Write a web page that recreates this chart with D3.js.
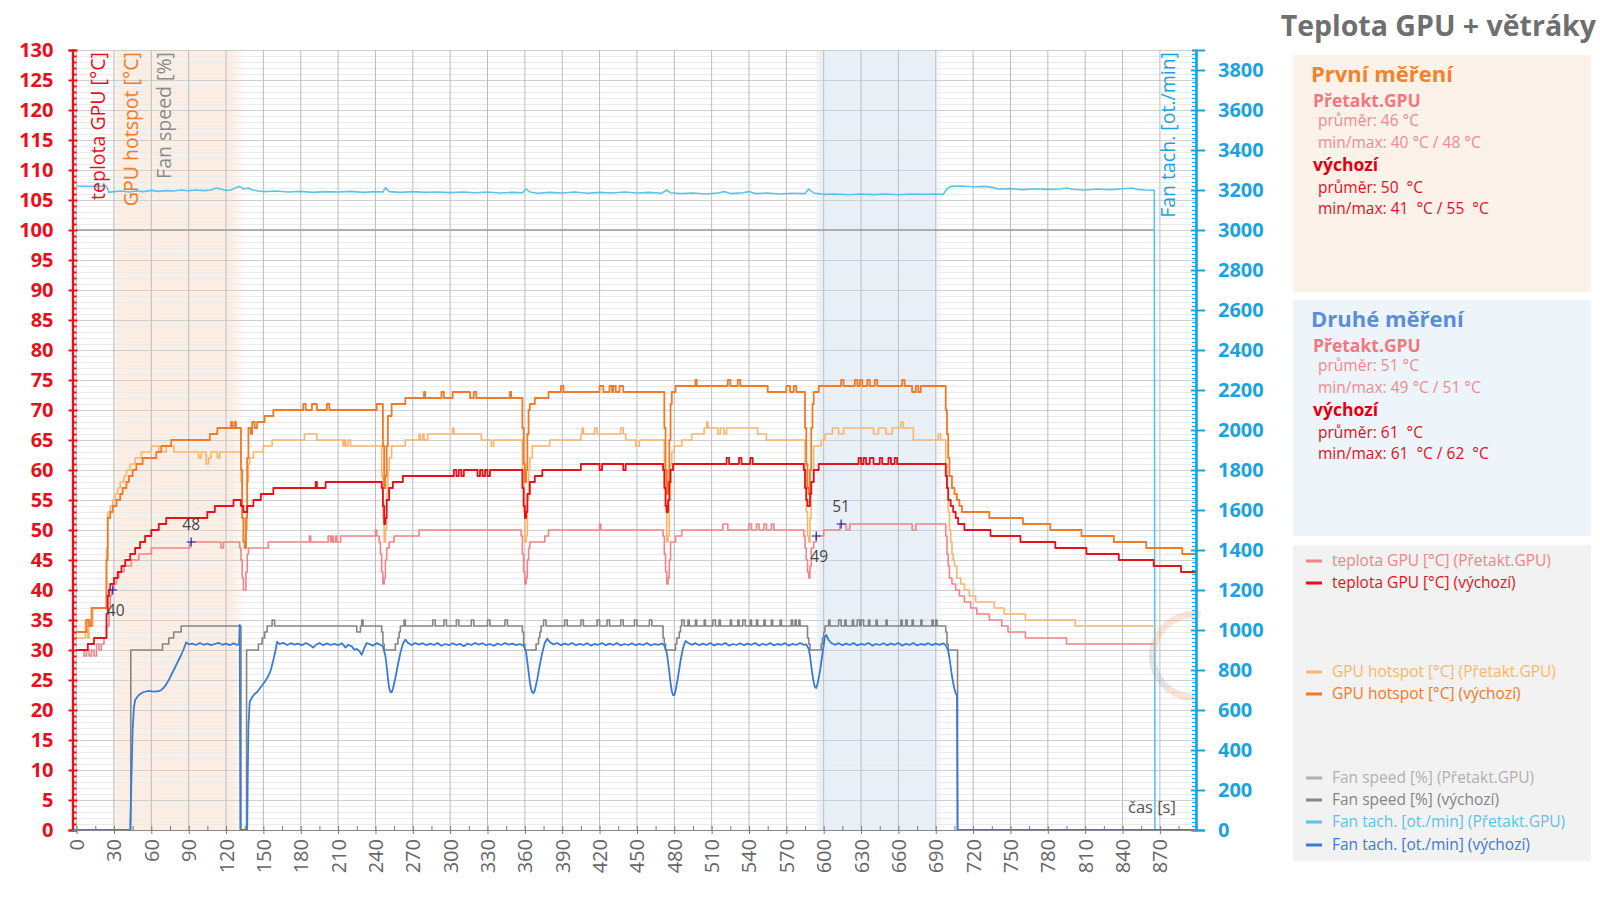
<!DOCTYPE html>
<html><head><meta charset="utf-8">
<script src="https://cdn.jsdelivr.net/npm/d3@7"></script>
<style>body{margin:0;background:#fff;} svg{display:block;font-family:'Open Sans','Noto Sans',sans-serif;}</style>
</head><body><svg id="c" width="1600" height="899"></svg>
<script>
// ---------------- DATA ----------------
const xTickVals = [0,30,60,90,120,150,180,210,240,270,300,330,360,390,420,450,480,510,540,570,600,630,660,690,720,750,780,810,840,870];
const xMinorVals = [15,45,75,105,135,165,195,225,255,285,315,345,375,405,435,465,495,525,555,585,615,645,675,705,735,765,795,825,855,885];
const leftTickVals = [0,5,10,15,20,25,30,35,40,45,50,55,60,65,70,75,80,85,90,95,100,105,110,115,120,125,130];
const rightTickVals = [0,200,400,600,800,1000,1200,1400,1600,1800,2000,2200,2400,2600,2800,3000,3200,3400,3600,3800];

// teplota GPU [°C] (Přetakt.GPU)
const tempOC = [[0,30],[6,29],[8,30],[10,29],[12,30],[14,29],[16,31],[18,30],[20,31],[22,32],[24,34],[26,37],[27,39],[28,40],[30,41],[32,42],[34,43],[38,44],[44,45],[50,46],[60,47],[91,48],[116,47],[118,48],[131,47],[132,45],[133,42],[134,40],[135,40],[136,43],[137,46],[138,47],[154,48],[187,49],[188,48],[202,49],[204,48],[205,49],[206,48],[208,49],[209,48],[212,49],[240,50],[241,49],[243,48],[244,46],[245,43],[246,41],[247,42],[248,45],[249,47],[251,48],[255,49],[275,50],[357,49],[358,46],[359,43],[360,41],[361,42],[362,45],[363,47],[364,48],[376,49],[379,50],[420,51],[421,50],[471,49],[472,46],[473,43],[474,41],[475,42],[476,45],[477,48],[481,49],[486,50],[519,51],[523,50],[540,51],[542,50],[546,51],[548,50],[552,51],[554,50],[558,51],[560,50],[584,49],[585,47],[586,45],[587,43],[588,42],[589,44],[590,47],[592,48],[594,49],[600,50],[613,51],[618,50],[621,51],[671,50],[674,51],[697,51],[698,49],[699,46],[700,44],[701,42],[703,41],[706,40],[709,39],[713,38],[718,37],[723,36],[733,35],[743,34],[748,33],[762,32],[795,31],[866,31]];
// teplota GPU [°C] (výchozí)
const tempDef = [[0,30],[9,31],[14,32],[23,32],[24,36],[25,39],[26,40],[27,41],[30,42],[33,43],[36,44],[39,45],[43,46],[47,47],[51,48],[55,49],[60,50],[66,51],[72,52],[105,53],[111,54],[126,55],[131,55],[132,54],[134,53],[136,53],[137,54],[142,55],[148,56],[158,57],[192,58],[193,57],[200,58],[245,57],[246,54],[247,51],[248,52],[249,55],[251,57],[254,58],[262,59],[303,60],[305,59],[307,60],[309,59],[311,60],[322,59],[324,60],[326,59],[328,60],[330,59],[332,60],[357,60],[358,57],[359,54],[360,52],[361,53],[362,56],[364,58],[368,59],[374,60],[405,61],[420,60],[422,61],[439,60],[441,61],[471,60],[472,57],[473,54],[474,53],[475,55],[476,58],[477,60],[479,61],[522,62],[524,61],[532,62],[534,61],[541,62],[543,61],[584,60],[585,57],[586,55],[587,54],[588,54],[589,56],[590,58],[592,60],[596,61],[628,62],[630,61],[632,62],[634,61],[637,62],[640,61],[645,62],[647,61],[652,62],[654,61],[657,62],[659,61],[697,61],[698,59],[699,57],[700,55],[702,54],[704,53],[706,52],[708,51],[713,50],[734,49],[758,48],[786,47],[811,46],[837,45],[865,44],[887,43],[899,43]];
// GPU hotspot [°C] (Přetakt.GPU)
const hotOC = [[0,32],[6,32],[7,35],[8,33],[9,32],[10,35],[11,34],[13,37],[23,37],[24,47],[25,53],[27,54],[29,55],[31,56],[33,57],[35,58],[38,59],[40,60],[43,61],[47,62],[52,63],[60,64],[66,63],[72,64],[78,63],[96,63],[98,62],[100,63],[104,61],[106,62],[108,63],[113,62],[115,63],[131,63],[132,58],[133,52],[134,48],[135,47],[136,50],[137,58],[138,61],[139,62],[142,63],[150,64],[157,65],[183,66],[193,65],[214,64],[215,65],[216,64],[218,65],[220,64],[244,64],[245,59],[246,52],[247,48],[248,50],[249,56],[250,60],[251,62],[253,64],[264,65],[275,66],[276,65],[278,66],[279,65],[282,66],[302,67],[303,66],[325,65],[333,64],[335,65],[357,65],[358,60],[359,53],[360,48],[361,49],[362,55],[363,60],[364,62],[366,64],[380,65],[405,66],[406,67],[407,66],[416,67],[418,66],[437,67],[439,66],[441,65],[449,64],[452,65],[471,65],[472,60],[473,53],[474,48],[475,49],[476,55],[477,61],[478,63],[480,64],[486,65],[494,66],[504,67],[506,68],[507,67],[515,66],[517,67],[520,66],[522,67],[547,66],[554,65],[584,65],[585,60],[586,53],[587,49],[588,48],[589,52],[590,58],[592,64],[598,65],[601,66],[607,67],[612,66],[616,67],[640,66],[644,67],[650,66],[655,67],[662,68],[664,67],[672,65],[692,66],[694,65],[697,65],[698,61],[699,57],[700,53],[701,50],[702,48],[703,46],[704,45],[705,44],[707,42],[710,41],[713,40],[717,39],[722,38],[737,37],[745,36],[762,35],[802,34],[866,34]];
// GPU hotspot [°C] (výchozí)
const hotDef = [[0,33],[7,33],[8,35],[10,34],[12,37],[23,37],[24,45],[25,52],[27,53],[29,54],[32,55],[35,56],[37,57],[40,58],[42,59],[45,60],[48,61],[53,62],[64,63],[68,64],[76,65],[107,66],[113,67],[122,67],[124,68],[125,67],[127,68],[128,67],[131,67],[132,60],[133,52],[134,48],[135,47],[136,52],[137,62],[138,67],[140,66],[141,68],[143,67],[145,68],[151,69],[158,70],[182,71],[184,70],[189,71],[193,70],[201,71],[203,70],[241,71],[245,71],[246,64],[247,57],[248,59],[249,64],[250,69],[253,71],[264,72],[279,73],[280,72],[293,73],[295,72],[302,73],[316,72],[319,73],[321,72],[348,73],[349,72],[357,72],[358,67],[359,61],[360,58],[361,60],[362,66],[363,70],[364,71],[368,72],[379,73],[389,74],[391,73],[420,74],[423,73],[428,74],[430,73],[431,74],[433,73],[436,74],[439,73],[471,73],[472,67],[473,60],[474,56],[475,58],[476,65],[477,71],[478,73],[481,74],[497,75],[498,74],[523,75],[525,74],[531,75],[533,74],[555,73],[570,74],[573,73],[576,74],[578,73],[584,73],[585,67],[586,61],[587,57],[588,56],[589,60],[590,67],[591,71],[592,73],[596,74],[614,75],[616,74],[625,75],[627,74],[629,75],[631,74],[635,75],[637,74],[641,75],[643,74],[663,75],[665,74],[671,73],[674,74],[676,73],[678,74],[697,74],[698,70],[699,66],[700,62],[701,59],[703,57],[705,56],[707,55],[709,54],[711,53],[733,52],[760,51],[782,50],[807,49],[833,48],[859,47],[888,46],[899,46]];
// Fan speed [%] (Přetakt.GPU)
const fanOC = [[0,100],[866,100]];
// Fan speed [%] (výchozí)
const fanDef = [[0,0],[43,0],[43.5,30],[69,31],[74,32],[78,33],[84,34],[131.5,34],[132,0],[136,0],[136.5,30],[146,31],[149,32],[151,33],[153,34],[157,35],[159,34],[225,33],[228,34],[229,35],[230,34],[244,34],[245,33],[246,31],[247,30],[256,31],[258,32],[259,33],[260,34],[263,35],[264,34],[286,35],[288,34],[295,35],[297,34],[305,35],[307,34],[317,35],[319,34],[330,35],[332,34],[344,35],[346,34],[357,34],[358,33],[359,31],[360,30],[369,31],[371,32],[372,33],[373,34],[375,35],[377,34],[392,35],[394,34],[405,35],[407,34],[418,35],[420,34],[426,35],[428,34],[437,35],[439,34],[448,35],[450,34],[460,35],[462,34],[470,34],[471,32],[472,31],[473,30],[481,31],[482,32],[484,33],[485,34],[486,35],[488,34],[491,35],[492,34],[497,35],[498,34],[504,35],[505,34],[511,35],[513,34],[516,35],[517,34],[525,35],[526,34],[531,35],[532,34],[535,35],[537,34],[541,35],[542,34],[546,35],[547,34],[552,35],[553,34],[558,35],[559,34],[565,35],[566,34],[574,35],[575,34],[577,35],[578,34],[580,35],[581,34],[586,34],[587,32],[588,31],[589,30],[598,31],[599,32],[600,33],[601,34],[604,35],[605,34],[612,35],[614,34],[617,35],[618,34],[623,35],[624,34],[627,35],[629,34],[630,35],[632,34],[636,35],[637,34],[642,35],[643,34],[650,35],[651,34],[662,35],[663,34],[666,35],[667,34],[671,35],[672,34],[678,35],[679,34],[687,35],[688,34],[690,35],[691,34],[697,34],[698,33],[699,31],[700,30],[707,30],[707.5,0],[899,0]];
// Fan tach. [ot./min] (Přetakt.GPU)
const tachOC = [[0,3220],[10,3218],[20,3220],[24,3218],[26,3188],[30,3192],[36,3195],[42,3190],[48,3195],[54,3192],[60,3198],[66,3193],[72,3197],[78,3195],[84,3200],[90,3196],[96,3200],[102,3197],[108,3200],[112,3210],[116,3205],[120,3198],[124,3200],[128,3212],[131,3218],[134,3205],[138,3210],[141,3200],[146,3195],[152,3192],[160,3195],[170,3190],[180,3193],[190,3188],[200,3192],[210,3190],[220,3193],[230,3188],[240,3192],[246,3190],[248,3212],[251,3192],[260,3188],[270,3192],[280,3188],[290,3190],[300,3187],[310,3190],[320,3186],[330,3190],[340,3185],[350,3188],[358,3186],[361,3205],[364,3190],[370,3184],[380,3188],[390,3185],[400,3190],[410,3184],[420,3188],[430,3185],[440,3190],[450,3185],[460,3188],[470,3184],[474,3200],[477,3186],[485,3182],[495,3185],[505,3180],[515,3185],[520,3192],[525,3182],[535,3186],[540,3192],[545,3182],[555,3185],[565,3180],[575,3184],[585,3182],[588,3205],[592,3185],[600,3178],[610,3180],[620,3176],[630,3180],[640,3177],[650,3180],[660,3176],[670,3180],[680,3178],[690,3180],[696,3178],[699,3205],[702,3218],[710,3220],[720,3216],[730,3218],[736,3212],[740,3205],[750,3207],[760,3202],[770,3206],[780,3203],[790,3205],[795,3210],[800,3204],[810,3200],[820,3205],[830,3202],[840,3206],[848,3210],[852,3203],[858,3200],[865.5,3198],[866,0]];
// Fan tach. [ot./min] (výchozí)
const tachDef = [[0,0],[43,0],[44,250],[45,500],[46,610],[47,650],[49,668],[51,680],[54,690],[58,696],[62,692],[66,694],[68,700],[70,712],[72,728],[74,750],[76,775],[78,800],[80,825],[82,850],[84,875],[86,905],[88,938],[90,928],[93,932],[96,925],[99,935],[102,926],[105,932],[108,924],[111,930],[114,936],[117,926],[120,932],[123,924],[126,933],[129,926],[130.5,930],[131,1025],[131.5,0],[137,0],[137.5,300],[138,520],[139,640],[141,665],[143,680],[145,690],[148,715],[151,740],[154,770],[156,800],[158,850],[160,905],[161,940],[163,930],[166,936],[169,925],[172,934],[175,927],[178,932],[181,924],[184,935],[187,926],[190,912],[192,925],[195,935],[198,924],[201,933],[204,925],[207,931],[210,924],[213,934],[216,912],[218,926],[221,918],[223,902],[225,905],[227,895],[229,876],[231,910],[233,935],[235,930],[238,922],[241,934],[244,926],[246,918],[248,870],[249,820],[250,760],[251,710],[252,690],[253,688],[254,705],[256,760],[258,825],[260,885],[262,930],[264,952],[266,936],[269,925],[272,935],[275,927],[278,934],[281,924],[284,932],[287,925],[290,935],[293,921],[296,930],[299,924],[302,934],[305,925],[308,931],[311,919],[314,932],[317,925],[320,935],[323,927],[326,934],[329,924],[332,930],[335,921],[338,932],[341,925],[344,935],[347,927],[350,932],[353,924],[356,930],[359,922],[361,890],[362,840],[363,790],[364,740],[365,705],[366,688],[367,685],[368,698],[370,755],[372,825],[374,888],[376,935],[378,956],[380,940],[383,928],[386,935],[389,924],[392,932],[395,926],[398,935],[401,924],[404,931],[407,925],[410,934],[413,922],[416,930],[419,926],[422,935],[425,924],[428,932],[431,925],[434,935],[437,923],[440,930],[443,925],[446,934],[449,924],[452,931],[455,925],[458,935],[461,923],[464,930],[467,926],[470,932],[472,924],[474,885],[475,840],[476,790],[477,735],[478,695],[479,675],[480,674],[481,695],[483,765],[485,845],[487,910],[489,945],[491,936],[494,926],[497,934],[500,924],[503,932],[506,925],[509,935],[512,923],[515,931],[518,926],[521,935],[524,922],[527,930],[530,925],[533,934],[536,924],[539,932],[542,926],[545,935],[548,922],[551,931],[554,925],[557,935],[560,923],[563,930],[566,926],[569,934],[572,922],[575,931],[578,925],[581,935],[584,926],[586,928],[588,905],[589,870],[590,820],[591,775],[592,738],[593,714],[594,710],[595,728],[597,795],[599,880],[601,968],[602,975],[604,950],[606,935],[609,926],[612,934],[615,924],[618,932],[621,925],[624,935],[627,923],[630,931],[633,926],[636,935],[639,922],[642,930],[645,925],[648,934],[651,924],[654,932],[657,926],[660,935],[663,922],[666,931],[669,925],[672,935],[675,923],[678,930],[681,926],[684,934],[687,924],[690,932],[693,926],[696,933],[698,925],[700,895],[701,860],[702,815],[703,770],[704,735],[705,705],[706,685],[707,672],[707.5,0],[899,0]];

// highlighted intervals and min/max markers
const bandFirst = [29, 130];
const bandSecond = [594, 694];
const markerPts = [[29,40,"40",1],[92,48,"48",-1],[594,49,"49",1],[614,51,"51",-1]];

const panelFirst = ["První měření","Přetakt.GPU","průměr: 46 °C","min/max: 40 °C / 48 °C","výchozí","průměr: 50  °C","min/max: 41  °C / 55  °C"];
const panelSecond = ["Druhé měření","Přetakt.GPU","průměr: 51 °C","min/max: 49 °C / 51 °C","výchozí","průměr: 61  °C","min/max: 61  °C / 62  °C"];
const legendNames = ["teplota GPU [°C] (Přetakt.GPU)","teplota GPU [°C] (výchozí)","GPU hotspot [°C] (Přetakt.GPU)","GPU hotspot [°C] (výchozí)","Fan speed [%] (Přetakt.GPU)","Fan speed [%] (výchozí)","Fan tach. [ot./min] (Přetakt.GPU)","Fan tach. [ot./min] (výchozí)"];

// ---------------- DRAW ----------------
const C = {tOC:"#f28388", tDef:"#e5121c", hOC:"#f8b66c", hDef:"#f07a28", fOC:"#9c9c9c", fDef:"#858585", rOC:"#5cc3e6", rDef:"#3a7bd5",
  left:"#e8101a", right:"#1ca3de"};
const svg = d3.select("#c");
const X0 = 72.5, X1 = 1196, Y0 = 830, Y1 = 50;
const x = d3.scaleLinear().domain([-3.3, 899]).range([X0, X1]);
const yL = d3.scaleLinear().domain([0, 130]).range([Y0, Y1]);
const yR = d3.scaleLinear().domain([0, 3900]).range([Y0, Y1]);

// bands
const defs = svg.append("defs");
function grad(id, col, op){
  const g = defs.append("linearGradient").attr("id", id);
  [[0,0.5*op],[0.04,op],[0.9,op],[1,0]].forEach(s=>g.append("stop").attr("offset",s[0]).attr("stop-color",col).attr("stop-opacity",s[1]));
}
grad("g1","#f7c7a5",0.3); grad("g2","#b9d1ed",0.33);
svg.append("rect").attr("x",x(bandFirst[0])).attr("y",Y1).attr("width",x(bandFirst[1]+6)-x(bandFirst[0])).attr("height",Y0-Y1).attr("fill","url(#g1)");
svg.append("rect").attr("x",x(bandSecond[0])).attr("y",Y1).attr("width",x(bandSecond[1]+3)-x(bandSecond[0])).attr("height",Y0-Y1).attr("fill","url(#g2)");

// grid
const grid = svg.append("g");
grid.selectAll(".hm").data(d3.range(0,131)).join("line")
  .attr("x1",X0).attr("x2",X1).attr("y1",d=>yL(d)+0.5).attr("y2",d=>yL(d)+0.5)
  .attr("stroke",d=>d%5===0?"#cfcfcf":"#ebebeb").attr("stroke-width",1);
grid.selectAll(".v").data(xTickVals).join("line")
  .attr("x1",d=>x(d)).attr("x2",d=>x(d)).attr("y1",Y1).attr("y2",Y0)
  .attr("stroke","#bdbdbd").attr("stroke-width",1);

// lines
const lineL = (curve)=>d3.line().x(d=>x(d[0])).y(d=>yL(d[1])).curve(curve);
const lineR = d3.line().x(d=>x(d[0])).y(d=>yR(d[1])).curve(d3.curveLinear);
function draw(data, gen, col, w){ svg.append("path").datum(data).attr("d",gen).attr("fill","none").attr("stroke",col).attr("stroke-width",w).attr("stroke-linejoin","round"); }
draw(fanOC, lineL(d3.curveStepAfter), C.fOC, 1.6);
draw(tachOC, lineR, C.rOC, 1.6);
draw(fanDef, lineL(d3.curveStepAfter), C.fDef, 1.6);
draw(tachDef, lineR, C.rDef, 1.8);
draw(hotOC, lineL(d3.curveStepAfter), C.hOC, 1.6);
draw(tempOC, lineL(d3.curveStepAfter), C.tOC, 1.6);
draw(hotDef, lineL(d3.curveStepAfter), C.hDef, 1.8);
draw(tempDef, lineL(d3.curveStepAfter), C.tDef, 1.8);

// watermark (faint)
const wm = svg.append("g").attr("transform","translate(1194,656)").attr("opacity",0.3);
wm.append("path").attr("d", d3.arc()({innerRadius:38,outerRadius:45,startAngle:-Math.PI*0.45,endAngle:Math.PI*0.05})).attr("fill","#f2a57a");
wm.append("path").attr("d", d3.arc()({innerRadius:38,outerRadius:45,startAngle:-Math.PI*0.8,endAngle:-Math.PI*0.45})).attr("fill","#a9a9a9");
wm.append("path").attr("d", d3.arc()({innerRadius:38,outerRadius:45,startAngle:-Math.PI*1.0,endAngle:-Math.PI*0.8})).attr("fill","#f2a57a");

// markers
const mk = svg.append("g");
markerPts.forEach(m=>{
  const px = x(m[0]), py = yL(m[1]);
  mk.append("path").attr("d",`M${px-4.5},${py}H${px+4.5}M${px},${py-4.5}V${py+4.5}`).attr("stroke","#2323a8").attr("stroke-width",1.2);
  mk.append("text").attr("x",px+(m[3]>0?3:0)).attr("y",py+(m[3]>0?26:-12)).attr("text-anchor","middle")
    .attr("font-size",15.5).attr("fill","#444").text(m[2]);
});

// left axis
const gL = svg.append("g").attr("transform",`translate(${X0},0)`);
gL.call(d3.axisLeft(yL).tickValues(leftTickVals).tickSize(4).tickPadding(15));
gL.append("g").call(d3.axisRight(yL).tickValues(d3.range(0,131).filter(v=>v%5)).tickSize(4).tickFormat(""));
gL.selectAll(".domain").attr("stroke",C.left).attr("stroke-width",2.2);
gL.selectAll(".tick line").attr("stroke",C.left).attr("stroke-width",2);
gL.selectAll(":scope > .tick line").attr("x1",5);
gL.selectAll("text").attr("fill",C.left).attr("font-size",20).attr("font-weight",700).attr("font-family","'Open Sans',sans-serif");

// right axis
const gR = svg.append("g").attr("transform",`translate(${X1},0)`);
gR.call(d3.axisRight(yR).tickValues(rightTickVals).tickSize(9).tickPadding(13).tickFormat(d3.format("d")));
gR.append("g").call(d3.axisLeft(yR).tickValues(d3.range(0,3901,20).filter(v=>v%200)).tickSize(4).tickFormat(""));
gR.selectAll(".domain").attr("stroke",C.right).attr("stroke-width",2.2);
gR.selectAll(".tick line").attr("stroke",C.right).attr("stroke-width",1.2);
gR.selectAll(":scope > .tick line").attr("x1",-5).attr("stroke-width",2);
gR.selectAll("text").attr("fill",C.right).attr("font-size",20).attr("font-weight",700).attr("font-family","'Open Sans',sans-serif");

// bottom axis
const gB = svg.append("g").attr("transform",`translate(0,${Y0})`);
gB.call(d3.axisBottom(x).tickValues(xTickVals).tickSize(4));
gB.append("g").call(d3.axisTop(x).tickValues(xMinorVals).tickSize(4).tickFormat(""));
gB.selectAll(".domain").attr("stroke","#888").attr("d",`M${X0},0.5H${X1}`);
gB.selectAll(".tick line").attr("stroke","#777");
gB.selectAll(":scope > .tick line").attr("y1",-4);
gB.selectAll(":scope > .tick text").attr("transform","rotate(-90)").attr("x",-9).attr("y",0).attr("dy","0.35em")
  .style("text-anchor","end").attr("fill","#666").attr("font-size",20).attr("font-family","'Open Sans',sans-serif");

// axis titles in plot
function vtitle(txt, cx, col){
  svg.append("text").attr("transform",`translate(${cx},52) rotate(-90)`).attr("text-anchor","end").attr("dy","0.35em")
    .attr("font-size",19.5).attr("fill",col).text(txt);
}
vtitle("teplota GPU [°C]", 98, C.left);
vtitle("GPU hotspot [°C]", 131, C.hDef);
vtitle("Fan speed [%]", 164, "#8a8a8a");
vtitle("Fan tach. [ot./min]", 1168, C.right);
svg.append("text").attr("x",1128).attr("y",813).attr("font-size",16.5).attr("fill","#555").text("čas [s]");

// title
svg.append("text").attr("x",1596).attr("y",36).attr("text-anchor","end").attr("font-size",28.5).attr("font-weight",700).attr("fill","#6f6f6f").text("Teplota GPU + větráky");

// panels
function panel(y0, h, bg, lines, headCol){
  svg.append("rect").attr("x",1293).attr("y",y0).attr("width",298).attr("height",h).attr("fill",bg);
  const ys = [27,52,71,93,116,138,159];
  const st = [
    {x:1311,fs:22,fw:700,c:headCol},{x:1313,fs:17.5,fw:700,c:"#f0787e"},{x:1318,fs:15.5,fw:400,c:"#f08a8e"},{x:1318,fs:15.5,fw:400,c:"#f08a8e"},
    {x:1313,fs:17.5,fw:700,c:"#e0000f"},{x:1318,fs:15.5,fw:400,c:"#e0101c"},{x:1318,fs:15.5,fw:400,c:"#e0101c"}];
  lines.forEach((t,i)=>svg.append("text").attr("x",st[i].x).attr("y",y0+ys[i]).attr("font-size",st[i].fs).attr("font-weight",st[i].fw)
    .attr("fill",st[i].c).style("white-space","pre").text(t));
}
panel(55, 237, "#fdf2ea", panelFirst, "#f4822a");
panel(300, 236, "#edf4fa", panelSecond, "#5b8dd8");

// legend
svg.append("rect").attr("x",1293).attr("y",545).attr("width",298).attr("height",316).attr("fill","#f2f2f2");
const legCols = [C.tOC,C.tDef,C.hOC,C.hDef,"#b0b0b0",C.fDef,C.rOC,C.rDef];
const legY = [561,583,672,694,778,800,822,845];
legendNames.forEach((n,i)=>{
  svg.append("line").attr("x1",1306).attr("x2",1322).attr("y1",legY[i]).attr("y2",legY[i]).attr("stroke",legCols[i]).attr("stroke-width",3);
  svg.append("text").attr("x",1332).attr("y",legY[i]).attr("dy","0.35em").attr("font-size",15.5).attr("fill",legCols[i]).text(n);
});
</script></body></html>
